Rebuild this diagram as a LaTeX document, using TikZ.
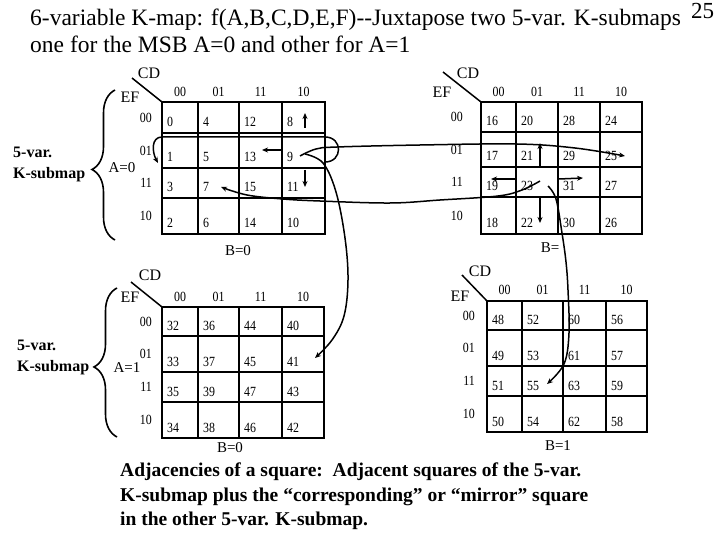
\documentclass[tikz,border=0pt]{standalone}
\usepackage{fontspec}
\setmainfont{Liberation Serif}[Ligatures=NoCommon]
\newfontfamily\narrowfont{Liberation Serif}[FakeStretch=0.85]
\usetikzlibrary{decorations.pathreplacing,arrows.meta}
\newcommand\kmapgrid[6]{% #1 name, #2 xs, #3 ys, #4 base, #5 row-header gap, #6 col-header gap
  \pgfmathsetmacro\xA{{#2}[0]}\pgfmathsetmacro\xE{{#2}[4]}%
  \pgfmathsetmacro\yA{{#3}[0]}\pgfmathsetmacro\yE{{#3}[4]}%
  \draw[gridline] (\xA,\yA) rectangle (\xE,\yE);
  \foreach \i in {1,2,3}{%
    \pgfmathsetmacro\xx{{#2}[\i]}\pgfmathsetmacro\yy{{#3}[\i]}%
    \draw[gridline] (\xx,\yA) -- (\xx,\yE);
    \draw[gridline] (\xA,\yy) -- (\xE,\yy);
  }
  \foreach \c/\t in {0/00,1/01,2/11,3/10}{%
    \pgfmathsetmacro\xl{{#2}[\c]}\pgfmathsetmacro\xr{{#2}[\c+1]}%
    \pgfmathsetmacro\yt{{#3}[\c]}\pgfmathsetmacro\yb{{#3}[\c+1]}%
    \node[hdr] (#1c\t) at ({(\xl+\xr)/2},{\yA-#6}) {\t};
    \node[hdr,anchor=east] (#1r\t) at ({\xA-#5},{(\yt+\yb)/2}) {\t};
  }
  \foreach \r in {0,...,3}{\foreach \c in {0,...,3}{%
    \pgfmathsetmacro\xl{{#2}[\c]}\pgfmathsetmacro\yb{{#3}[\r+1]}%
    \pgfmathtruncatemacro\v{#4+4*{0,1,3,2}[\c]+{0,1,3,2}[\r]}%
    \node[num] (#1n\v) at (\xl+5,\yb-6) {\v};
  }}
}
\begin{document}
\begin{tikzpicture}[x=1pt,y=-1pt,
  gridline/.style={line width=2pt},
  num/.style={anchor=base west,inner sep=0pt,font=\narrowfont\fontsize{14}{14}\selectfont},
  hdr/.style={inner sep=0pt,font=\narrowfont\fontsize{14}{14}\selectfont},
  lbl/.style={inner sep=0pt,font=\fontsize{16}{16}\selectfont},
  small/.style={inner sep=0pt,font=\fontsize{15}{15}\selectfont},
  boldlbl/.style={inner sep=0pt,anchor=base west,font=\bfseries\fontsize{16}{16}\selectfont},
  diag/.style={line width=1.5pt},
  bracestyle/.style={line width=1.6pt,decorate,decoration={brace,amplitude=23pt,aspect=0.47}},
  arr/.style={line width=1.5pt,-{Stealth[length=6pt,width=5pt]}},
  titlefont/.style={inner sep=0pt,anchor=base west,font=\fontsize{23.5}{27}\selectfont},
  bottomfont/.style={inner sep=0pt,anchor=base west,font=\bfseries\fontsize{19.5}{24}\selectfont}
]
\fill[white] (0,0) rectangle (720,540);
\useasboundingbox (0,0) rectangle (720,540);

% title
\node[titlefont] (t1) at (30,26) {6-variable K-map: f(A,B,C,D,E,F)-{}-Juxtapose two 5-var. K-submaps};
\node[titlefont] (t2) at (30,53) {one for the MSB A=0 and other for A=1};
\node[inner sep=0pt,anchor=base west,font=\fontsize{23}{23}\selectfont] (pg) at (691,19) {25};

% grids
\kmapgrid{ga}{162,198,239,282,325}{102,133,168,198,234}{0}{10}{10}
\kmapgrid{gb}{481,516,558,600,642}{102,132,167,197,234}{16}{18}{10}
\kmapgrid{gc}{162,198,239,282,324}{307,336,372,402,438}{32}{10}{10}
\kmapgrid{gd}{487,522,563,606,647}{301,330,366,396,432}{48}{12}{11}

% CD / EF labels and diagonals
\node[lbl] (cda) at (149,73) {CD};
\node[lbl] (efa) at (130,97) {EF};
\draw[diag] (132,78) -- (162,102);
\node[lbl] (cdb) at (468,73) {CD};
\node[lbl] (efb) at (442,92) {EF};
\draw[diag] (443,72) -- (481,102);
\node[lbl] (cdc) at (150,275) {CD};
\node[lbl] (efc) at (130,297) {EF};
\draw[diag] (131,282) -- (162,307);
\node[lbl] (cdd) at (480,271) {CD};
\node[lbl] (efd) at (460,296) {EF};
\draw[diag] (462,275) -- (487,301);

% braces and side labels
\draw[bracestyle] (115,240) -- (115,90);
\node[boldlbl] (va) at (13,158) {5-var.};
\node[boldlbl] (ka) at (13,179) {K-submap};
\node[small] (aa) at (122,168) {A=0};
\draw[bracestyle] (117,437) -- (117,288);
\node[boldlbl] (vc) at (17,350) {5-var.};
\node[boldlbl] (kc) at (17,371) {K-submap};
\node[small] (ac) at (127,368) {A=1};

% B labels
\node[small] (ba) at (238,251) {B=0};
\node[small] (bb) at (550,248) {B=};
\node[small] (bc) at (230,448) {B=0};
\node[small] (bd) at (558,446) {B=1};

% arrows in grid A
\coordinate (a8s) at (305,128); \coordinate (a8e) at (305,113);
\draw[arr] (a8s) -- (a8e);
\coordinate (a11s) at (305,170); \coordinate (a11e) at (305,187);
\draw[arr] (a11s) -- (a11e);
\coordinate (a13s) at (281,150); \coordinate (a13e) at (262,150);
\draw[arr] (a13s) -- (a13e);
\coordinate (w1) at (325,162); \coordinate (w2) at (325,137);
\coordinate (w3) at (162,137); \coordinate (w4) at (158,163);
\draw[arr] (w1) .. controls (343,162) and (343,137) .. (w2) -- (w3) .. controls (151,137) and (152,152) .. (w4);
\coordinate (s9b) at (300,156); \coordinate (e25) at (625,156);
\draw[arr] plot[smooth,tension=0.6] coordinates {(s9b) (316,149) (337,147) (420,145) (517,144) (575,148) (e25)};
\coordinate (s9c) at (305,154); \coordinate (e41) at (315,358);
\draw[arr] plot[smooth,tension=0.6] coordinates {(s9c) (323,163) (336,192) (345,238) (348,280) (344,316) (332,340) (e41)};
\coordinate (s23a) at (540,181); \coordinate (e7) at (221,187);
\draw[arr] plot[smooth,tension=0.6] coordinates {(s23a) (522,190) (498,196) (440,200) (390,203) (320,201) (283,199) (247,195) (e7)};

% arrows in grid B
\coordinate (b21s) at (540,167); \coordinate (b21) at (540,143); \draw[arr] (b21s) -- (b21);
\coordinate (b19s) at (515,179); \coordinate (b19) at (491,179); \draw[arr] (b19s) -- (b19);
\coordinate (b31s) at (559,179); \coordinate (b31) at (583,178); \draw[arr] (b31s) -- (b31);
\coordinate (b22s) at (540,198); \coordinate (b22) at (540,223); \draw[arr] (b22s) -- (b22);
\coordinate (s23b) at (548,186); \coordinate (e55) at (547,384);
\draw[arr] plot[smooth,tension=0.6] coordinates {(s23b) (556,199) (562,233) (566,262) (568,290) (569,333) (564,364) (e55)};

% bottom text
\node[bottomfont] (bt1) at (120,476) {Adjacencies of a square:\ \ Adjacent squares of the 5-var.};
\node[bottomfont] (bt2) at (120,501) {K-submap plus the “corresponding” or “mirror” square};
\node[bottomfont] (bt3) at (120,525) {in the other 5-var. K-submap.};
\end{tikzpicture}
\end{document}
